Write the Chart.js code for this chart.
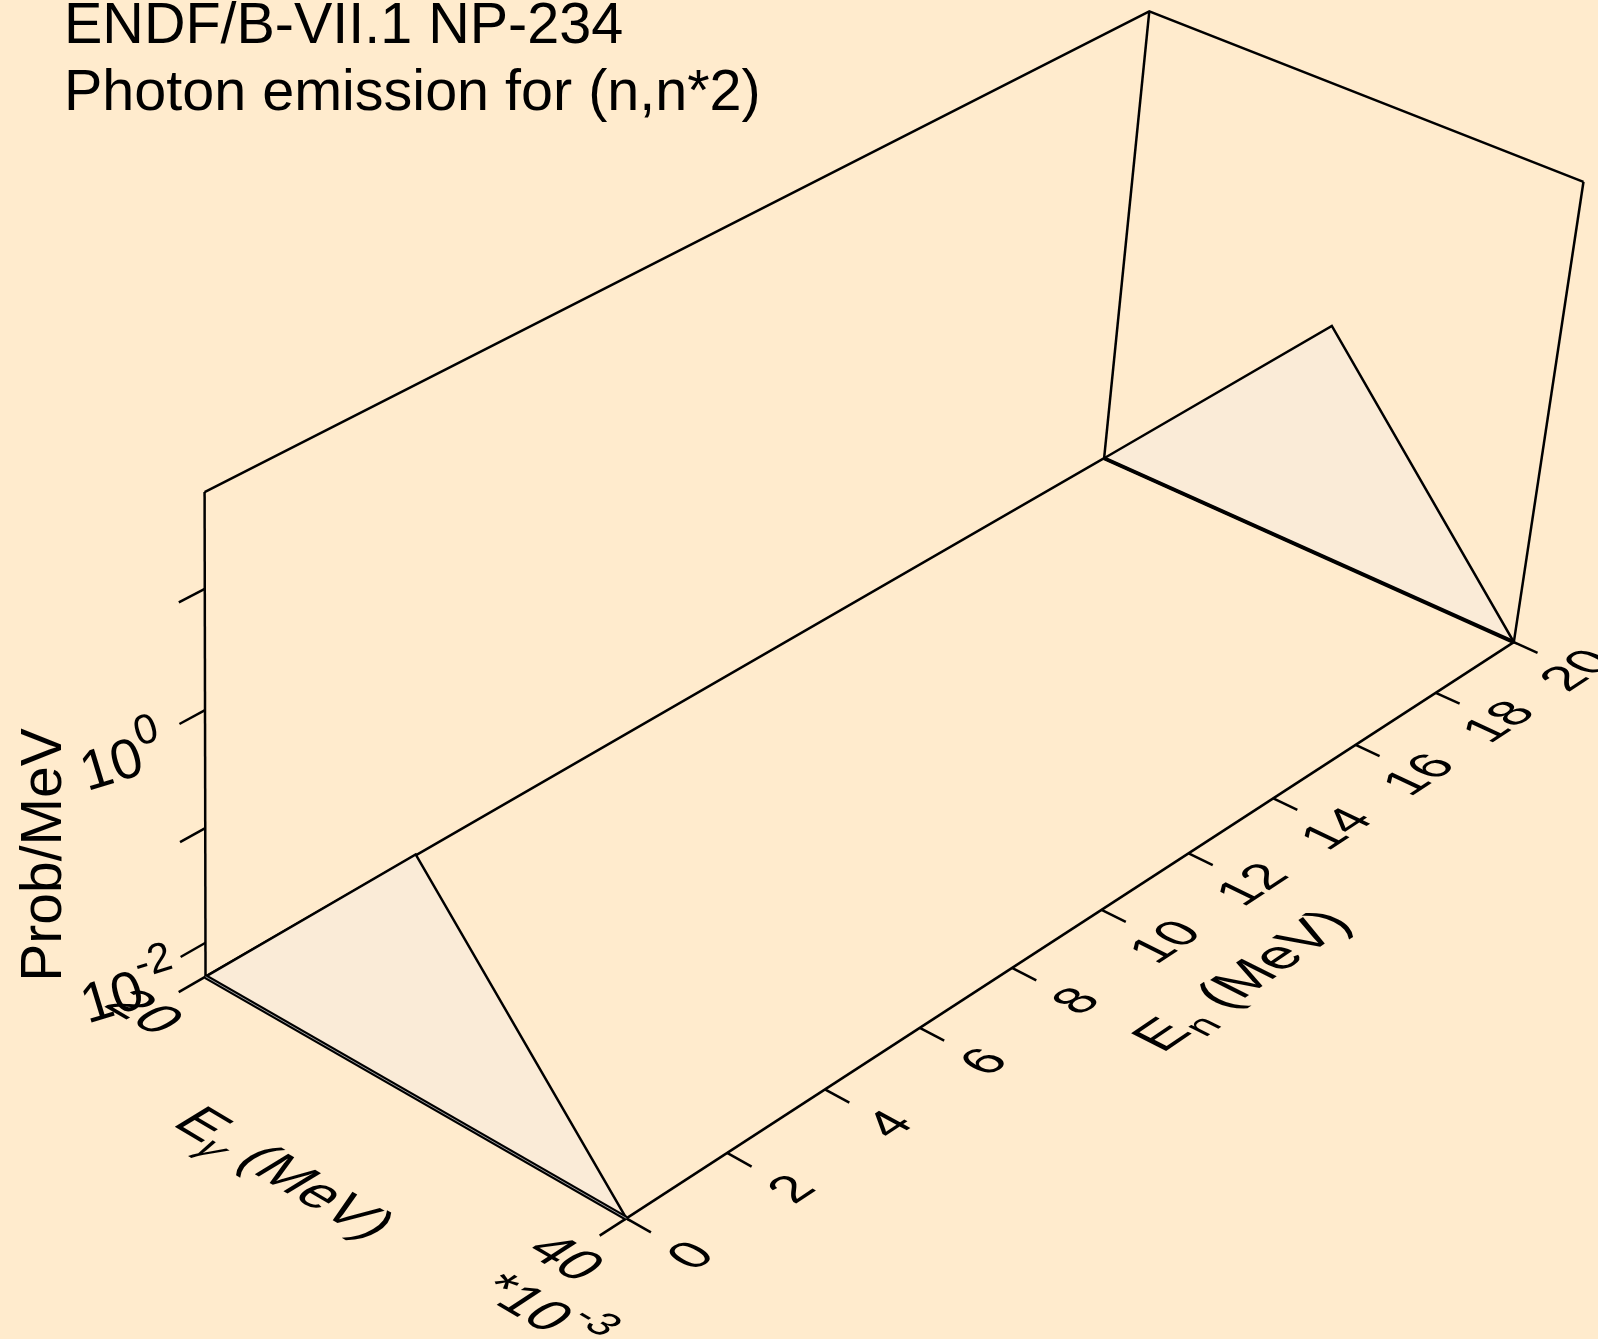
<!DOCTYPE html>
<html>
<head>
<meta charset="utf-8">
<script src="https://cdn.jsdelivr.net/npm/chart.js@4.4.0/dist/chart.umd.min.js"></script>
<style>
  html, body { margin: 0; padding: 0; background: #FFEBCD; }
  #wrap { width: 1598px; height: 1339px; position: relative; }
</style>
</head>
<body>
<div id="wrap"><canvas id="plot"></canvas></div>
<script>
// ENDF/B-VII.1 Np-234, photon emission for (n,n*2): one gamma line, two incident energies
const incidentEnergies = [0, 20];           // En (MeV)
const gammaEnergies = [0.02, 0.03, 0.04];   // Eγ (MeV)
const spectrumLow = [0, 0.56, 0];           // Prob/MeV at En = 0
const spectrumHigh = [0, 0.56, 0];          // Prob/MeV at En = 20
const enTicks = [0, 2, 4, 6, 8, 10, 12, 14, 16, 18, 20];
const egTicks = [0.02, 0.04];
const egTickLabels = ['20', '40'];
const probMajorTicks = [-2, 0];             // log10 of Prob/MeV
const probMinorTicks = [-1, 1];

const EG_MIN = 0.02, EG_MAX = 0.04;
const EN_MIN = 0, EN_MAX = 20;
const LOG_MIN = Math.log10(0.005), LOG_MAX = Math.log10(60);

const W = 1598, H = 1339;
const FONT = '"Liberation Sans", Arial, Helvetica, sans-serif';

// where the corners of the box (u = Eγ, v = En, w = log prob, each 0..1) land on the page
const boxCorners = [
  { p: [0, 0, 0], s: [205.5, 976.6] },
  { p: [1, 0, 0], s: [626.7, 1218.2] },
  { p: [1, 1, 0], s: [1514, 643] },
  { p: [0, 1, 0], s: [1103.7, 457.6] },
  { p: [0, 0, 1], s: [204.3, 492.3] },
  { p: [0, 1, 1], s: [1150, 12] },
  { p: [1, 1, 1], s: [1583, 181] }
];

// fit a 3x4 perspective camera to the corners (least squares, P[2][3] = 1)
function fitProjection(corners) {
  const rows = [], rhs = [];
  corners.forEach(({ p: [X, Y, Z], s: [x, y] }) => {
    rows.push([X, Y, Z, 1, 0, 0, 0, 0, -x * X, -x * Y, -x * Z]); rhs.push(x);
    rows.push([0, 0, 0, 0, X, Y, Z, 1, -y * X, -y * Y, -y * Z]); rhs.push(y);
  });
  const n = 11;
  const M = Array.from({ length: n }, () => new Array(n + 1).fill(0));
  rows.forEach((r, k) => {
    for (let i = 0; i < n; i++) {
      for (let j = 0; j < n; j++) M[i][j] += r[i] * r[j];
      M[i][n] += r[i] * rhs[k];
    }
  });
  for (let c = 0; c < n; c++) {
    let piv = c;
    for (let r = c + 1; r < n; r++) if (Math.abs(M[r][c]) > Math.abs(M[piv][c])) piv = r;
    [M[c], M[piv]] = [M[piv], M[c]];
    for (let r = 0; r < n; r++) {
      if (r === c) continue;
      const f = M[r][c] / M[c][c];
      for (let k = c; k <= n; k++) M[r][k] -= f * M[c][k];
    }
  }
  return M.map((row, i) => row[n] / row[i]);
}
const P = fitProjection(boxCorners);

function project(u, v, w) {
  const d = P[8] * u + P[9] * v + P[10] * w + 1;
  return { x: (P[0] * u + P[1] * v + P[2] * w + P[3]) / d, y: (P[4] * u + P[5] * v + P[6] * w + P[7]) / d };
}
const uOf = eg => (eg - EG_MIN) / (EG_MAX - EG_MIN);
const vOf = en => (en - EN_MIN) / (EN_MAX - EN_MIN);
const wOfLog = L => (L - LOG_MIN) / (LOG_MAX - LOG_MIN);
const wOf = p => wOfLog(Math.log10(Math.max(p, Math.pow(10, LOG_MIN))));

function line3(points, extra) {
  return Object.assign({
    data: points.map(q => project(q[0], q[1], q[2])),
    showLine: true, borderColor: '#000', borderWidth: 2.5, pointRadius: 0,
    fill: false, clip: false, order: 5
  }, extra || {});
}

const datasets = [];
// back walls of the box
datasets.push(line3([[0, 0, 0], [0, 0, 1]]));
datasets.push(line3([[0, 0, 1], [0, 1, 1], [1, 1, 1]]));
datasets.push(line3([[0, 1, 0], [0, 1, 1]]));
datasets.push(line3([[1, 1, 0], [1, 1, 1]]));
datasets.push(line3([[0, 0, 0], [0, 1, 0], [1, 1, 0]]));

// fences: one spectrum per incident energy
[spectrumLow, spectrumHigh].forEach((spec, i) => {
  const v = vOf(incidentEnergies[i]);
  const pts = gammaEnergies.map((eg, j) => [uOf(eg), v, wOf(spec[j])]);
  pts.push(pts[0]);
  datasets.push(line3(pts, { fill: 'shape', backgroundColor: '#FAEBD7', order: 3 }));
  datasets.push(line3([[0, v, 0], [1, v, 0]], { borderWidth: i === 0 ? 5 : 4, order: 2 }));
  if (i === 0) datasets.push(line3([[0, v, 0], [1, v, 0]], { borderWidth: 1, borderColor: '#9a9a9a', order: 1 }));
});

// front axes and ticks
datasets.push(line3([[1, 0, 0], [1, 1, 0]], { order: 1 }));
enTicks.forEach(t => datasets.push(line3([[1, vOf(t), 0], [1.055, vOf(t), 0]], { order: 1 })));
egTicks.forEach(t => datasets.push(line3([[uOf(t), 0, 0], [uOf(t), -0.026, 0]], { order: 1 })));
probMajorTicks.concat(probMinorTicks).forEach(L =>
  datasets.push(line3([[0, 0, wOfLog(L)], [0, -0.024, wOfLog(L)]], { order: 1 })));

// text helpers
function drawParts(ctx, parts, size, align, vshift) {
  let total = 0;
  parts.forEach(p => {
    ctx.font = `${p.italic ? 'italic ' : ''}${Math.round(size * (p.scale || 1))}px ${FONT}`;
    p.w = ctx.measureText(p.t).width;
    total += p.w;
  });
  let x = align === 'center' ? -total / 2 : align === 'right' ? -total : 0;
  const y0 = (vshift || 0) * size;
  ctx.textAlign = 'left';
  ctx.textBaseline = 'alphabetic';
  ctx.fillStyle = '#000';
  parts.forEach(p => {
    ctx.font = `${p.italic ? 'italic ' : ''}${Math.round(size * (p.scale || 1))}px ${FONT}`;
    ctx.fillText(p.t, x, y0 - (p.rise || 0) * size);
    x += p.w;
  });
}

function toPx(chart, q) {
  const p = project(q[0], q[1], q[2]);
  return [chart.scales.x.getPixelForValue(p.x), chart.scales.y.getPixelForValue(p.y)];
}

// text lying in a plane of the box, spanned by baseDir and upDir
function planeText(chart, parts, anchor, baseDir, upDir, size, align, vshift) {
  const ctx = chart.ctx;
  const eps = 0.01;
  const p0 = toPx(chart, anchor);
  const pb = toPx(chart, anchor.map((c, i) => c + eps * baseDir[i]));
  const pu = toPx(chart, anchor.map((c, i) => c + eps * upDir[i]));
  let bx = pb[0] - p0[0], by = pb[1] - p0[1], ux = pu[0] - p0[0], uy = pu[1] - p0[1];
  const bl = Math.hypot(bx, by), ul = Math.hypot(ux, uy);
  ctx.save();
  ctx.transform(bx / bl, by / bl, -ux / ul, -uy / ul, p0[0], p0[1]);
  drawParts(ctx, parts, size, align, vshift);
  ctx.restore();
}

const sup = t => ({ t, scale: 0.75, rise: 0.5 });
const sub = (t, italic) => ({ t, scale: 0.7, rise: -0.22, italic });

const labelPlugin = {
  id: 'labels3d',
  beforeDraw(chart) {
    const ctx = chart.ctx;
    ctx.save();
    ctx.fillStyle = '#FFEBCD';
    ctx.fillRect(0, 0, chart.width, chart.height);
    ctx.restore();
  },
  afterDatasetsDraw(chart) {
    const ctx = chart.ctx, sx = chart.scales.x, sy = chart.scales.y;
    // title
    ctx.save();
    ctx.fillStyle = '#000';
    ctx.font = `57.5px ${FONT}`;
    ctx.textAlign = 'left';
    ctx.textBaseline = 'alphabetic';
    ctx.fillText('ENDF/B-VII.1 NP-234', sx.getPixelForValue(64), sy.getPixelForValue(43));
    ctx.fillText('Photon emission for (n,n*2)', sx.getPixelForValue(64), sy.getPixelForValue(110));
    // vertical axis title
    ctx.translate(sx.getPixelForValue(61), sy.getPixelForValue(855));
    ctx.rotate(-Math.PI / 2);
    drawParts(ctx, [{ t: 'Prob/MeV' }], 57, 'center', 0);
    ctx.restore();

    const U = [1, 0, 0], V = [0, 1, 0], mU = [-1, 0, 0];
    // En tick labels and title (lying on the floor)
    enTicks.forEach(t => planeText(chart, [{ t: String(t) }], [1.14, vOf(t), 0], V, mU, 52, 'center', 0.36));
    planeText(chart, [{ t: 'E' }, sub('n'), { t: ' (MeV)' }], [1.31, 0.5, 0], V, mU, 57, 'center', 0.36);
    // Eγ tick labels and title
    egTicks.forEach((t, i) => planeText(chart, [{ t: egTickLabels[i] }], [uOf(t), -0.057, 0], U, V, 56, 'center', 0.36));
    planeText(chart, [{ t: '*10' }, sup('-3')], [1.07, -0.11, 0], U, V, 56, 'center', 0.36);
    planeText(chart, [{ t: 'E' }, sub('γ', true), { t: ' (MeV)' }], [0.505, -0.12, 0], U, V, 57, 'center', 0.36);
    // log axis labels beside the left edge
    probMajorTicks.forEach(L => {
      const p = toPx(chart, [0, 0, wOfLog(L)]);
      ctx.save();
      ctx.translate(p[0] - 118, p[1] + 81);
      ctx.rotate(-17 * Math.PI / 180);
      drawParts(ctx, [{ t: '10' }, sup(String(L))], 56, 'left', 0);
      ctx.restore();
    });
  }
};

new Chart(document.getElementById('plot'), {
  type: 'scatter',
  data: { datasets },
  options: {
    responsive: true,
    maintainAspectRatio: false,
    animation: false,
    layout: { padding: 0 },
    plugins: { legend: { display: false }, tooltip: { enabled: false }, title: { display: false } },
    scales: {
      x: { type: 'linear', display: false, min: 0, max: W },
      y: { type: 'linear', display: false, min: 0, max: H, reverse: true }
    },
    elements: { line: { tension: 0 }, point: { radius: 0 } }
  },
  plugins: [labelPlugin]
});
</script>
</body>
</html>
